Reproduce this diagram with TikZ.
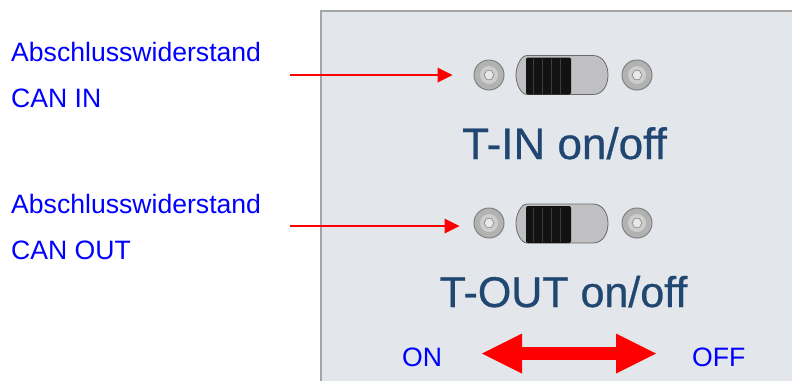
\documentclass[tikz,border=0pt]{standalone}
\usepackage{fontspec}
\setmainfont{Liberation Sans}
\newfontfamily\panelfont{Liberation Sans}[FakeBold=0.6]
\usetikzlibrary{arrows.meta,shapes.geometric}
\definecolor{labelblue}{RGB}{0,0,255}
\definecolor{panelbg}{RGB}{227,230,234}
\definecolor{panelborder}{RGB}{165,165,165}
\definecolor{paneltext}{RGB}{32,70,114}
\definecolor{arrowred}{RGB}{255,0,0}
\definecolor{screwfill}{RGB}{178,178,178}
\definecolor{screwedge}{RGB}{130,130,130}
\definecolor{screwring}{RGB}{205,205,205}
\definecolor{screwhole}{RGB}{232,232,232}
\definecolor{bodyfill}{RGB}{192,192,194}
\definecolor{bodyedge}{RGB}{105,105,105}
\definecolor{knobfill}{RGB}{18,18,18}
\definecolor{stripe}{RGB}{62,62,62}
\tikzset{
  lbl/.style={anchor=base west, inner sep=0pt, text=labelblue, font=\fontsize{26.6pt}{30pt}\selectfont},
  ptext/.style={anchor=base, inner sep=0pt, text=paneltext},
  screw/.style={circle, minimum size=30pt, inner sep=0pt, fill=screwfill, draw=screwedge, line width=1pt},
  hexhole/.style={regular polygon, regular polygon sides=6, minimum size=10pt, inner sep=0pt, fill=screwhole, draw=screwedge, line width=0.6pt},
  pointer/.style={draw=arrowred, line width=2pt, -{Triangle[length=15pt,width=15pt,line width=0pt]}},
  bigarrow/.style={draw=arrowred, line width=13pt, {Triangle[length=40pt,width=40pt,line width=0pt]}-{Triangle[length=40pt,width=40pt,line width=0pt]}},
  bodystyle/.style={fill=bodyfill, draw=bodyedge, line width=0.8pt},
  knobstyle/.style={fill=knobfill, rounded corners=2pt},
  stripestyle/.style={draw=stripe, line width=0.7pt}
}
\newcommand\myscrew[2]{%
  \node[screw] (#1) at (#2) {};
  \fill[screwring] (#1.center) circle (9pt);
  \node[hexhole] at (#1.center) {};
}
\newcommand\myslider[2]{%
  \begin{scope}[shift={(#2)}]
    \draw[bodystyle] (-36,-19.5) -- (30,-19.5) .. controls (50,-19.5) and (50,19.5) .. (30,19.5)
      -- (-36,19.5) .. controls (-42,19.5) and (-47,9) .. (-47,0)
      .. controls (-47,-9) and (-42,-19.5) .. (-36,-19.5) -- cycle;
    \fill[knobstyle] (-37,-17.5) rectangle (8,19.5);
    \foreach \sx in {-30,-21,-12,-3} \draw[stripestyle] (\sx,-16) -- (\sx,18.5);
    \coordinate (#1) at (0,0);
  \end{scope}
}
\begin{document}
\begin{tikzpicture}[x=1pt,y=-1pt]
\useasboundingbox (0,0) rectangle (792,381);
% panel
\fill[panelbg] (321,11) rectangle (792,381);
\draw[panelborder, line width=1.5pt] (321,381) -- (321,11) -- (792,11);
% switches
\myscrew{s1l}{489,75}
\myscrew{s1r}{637,75}
\myslider{k1}{563,75}
\myscrew{s2l}{489,223}
\myscrew{s2r}{637,223}
\myslider{k2}{563,223.5}
% panel texts
\node[ptext, font=\panelfont\fontsize{44pt}{48pt}\selectfont] (tin) at (564.5,159) {T-IN on/off};
\node[ptext, font=\panelfont\fontsize{43pt}{48pt}\selectfont] (tout) at (563.5,307) {T-OUT on/off};
% left labels
\node[lbl] (l1) at (11,61) {Abschlusswiderstand};
\node[lbl] (l2) at (11,107) {CAN IN};
\node[lbl] (l3) at (11,213) {Abschlusswiderstand};
\node[lbl] (l4) at (11,259) {CAN OUT};
% ON / OFF
\node[lbl] (on) at (402,366) {ON};
\node[lbl] (off) at (692,366) {OFF};
% pointers
\coordinate (p1) at (290,75);
\coordinate (p2) at (290,226);
\draw[pointer, shorten >=21pt] (p1) -- (s1l.west);
\draw[pointer, shorten >=14pt] (p2) -- (s2l.west |- p2);
% double arrow
\coordinate (dl) at (482,353.5);
\coordinate (dr) at (656,353.5);
\draw[bigarrow] (dl) -- (dr);
\end{tikzpicture}
\end{document}
